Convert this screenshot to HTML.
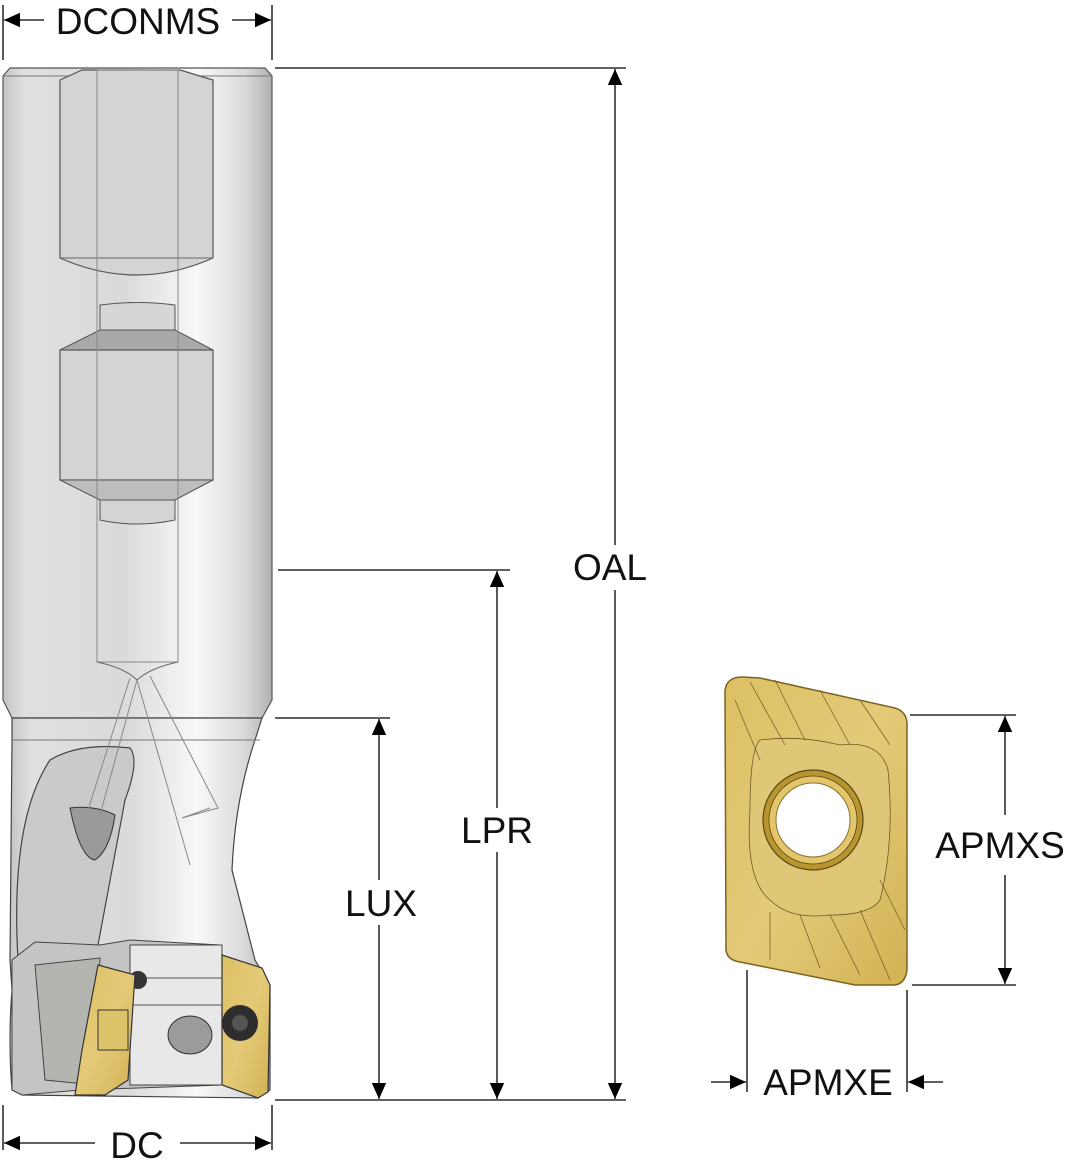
<!DOCTYPE html>
<html><head><meta charset="utf-8"><style>
html,body{margin:0;padding:0;background:#fff;width:1070px;height:1171px;overflow:hidden}
svg{display:block}
text{font-family:"Liberation Sans",sans-serif;fill:#111}
</style></head><body>
<svg width="1070" height="1171" viewBox="0 0 1070 1171" xmlns="http://www.w3.org/2000/svg">
<defs>
<linearGradient id="sh" x1="0" x2="1" y1="0" y2="0">
<stop offset="0" stop-color="#c4c4c4"/><stop offset="0.08" stop-color="#e0e0e0"/>
<stop offset="0.45" stop-color="#dadada"/><stop offset="0.72" stop-color="#f8f8f8"/>
<stop offset="0.9" stop-color="#dadada"/><stop offset="1" stop-color="#b0b0b0"/>
</linearGradient>
<linearGradient id="gd" x1="0" x2="1" y1="0" y2="1">
<stop offset="0" stop-color="#dcc064"/><stop offset="0.5" stop-color="#e4ca78"/><stop offset="1" stop-color="#d2b254"/>
</linearGradient>
<marker id="a" viewBox="0 0 10 10" refX="10" refY="5" markerWidth="18" markerHeight="16" markerUnits="userSpaceOnUse" orient="auto-start-reverse"><path d="M0,0.5 L10,5 L0,9.5z" fill="#000"/></marker>
</defs>

<path d="M3,76 L10,68 L265,68 L272,76 L272,700 L262,718 L12,718 L3,700 Z" fill="url(#sh)" stroke="#555" stroke-width="1.2"/>
<line x1="3" y1="76" x2="272" y2="76" stroke="#777"/>
<path d="M60,80 L82,70 L180,70 L213,80 L213,258 Q137,292 60,258 Z" fill="#d4d4d4" stroke="#555" stroke-width="1.2"/>
<path d="M60,258 L213,258" stroke="#666"/>
<path d="M100,305 Q137,300 175,305 L175,330 L100,330Z" fill="#d6d6d6" stroke="#555"/>
<path d="M100,330 L175,330 L213,350 L60,350 Z" fill="#a9a9a9" stroke="#555"/>
<rect x="60" y="350" width="153" height="130" fill="#d4d4d4" stroke="#555" stroke-width="1.2"/>
<path d="M60,480 L213,480 L175,500 L100,500Z" fill="#bdbdbd" stroke="#555"/>
<path d="M100,500 L175,500 L175,520 Q137,528 100,520Z" fill="#d4d4d4" stroke="#555"/>
<rect x="97" y="70" width="81" height="592" fill="none" stroke="#888" stroke-width="1"/>
<path d="M97,662 Q125,668 137,680 Q150,668 178,662" fill="none" stroke="#666"/>
<path d="M12,718 L262,718 L255,740 Q235,800 232,870 L255,960 L270,985 L270,1090 L258,1098 L22,1095 L12,1090 Q8,1040 12,990 L10,960 L12,740 Z" fill="url(#sh)" stroke="#444" stroke-width="1.2"/>
<line x1="12" y1="740" x2="260" y2="740" stroke="#777"/>
<path d="M18,960 Q10,820 50,760 Q80,742 130,748 Q140,760 125,800 L98,945 Z" fill="#cacaca" stroke="#444" stroke-width="1.2"/>
<path d="M70,808 Q95,805 115,815 Q110,850 95,860 Q80,858 70,808Z" fill="#9a9a9a" stroke="#333"/>
<path d="M130,678 L88,810 M137,680 L100,815 M137,680 L190,865 M150,676 L218,808 L182,818 L210,808" fill="none" stroke="#888"/>
<path d="M12,960 L35,942 L100,945 L130,940 L220,945 L222,1085 L80,1090 L22,1095 L12,1090 Z" fill="#c4c4c4" stroke="#444"/>
<rect x="130" y="945" width="92" height="140" fill="#e8e8e8" stroke="#444"/>
<line x1="130" y1="978" x2="222" y2="978" stroke="#555"/>
<line x1="130" y1="1005" x2="222" y2="1005" stroke="#555"/>
<path d="M35,965 L100,958 L95,1085 L45,1080 Z" fill="#b4b4b0" stroke="#444"/>
<ellipse cx="190" cy="1035" rx="22" ry="19" fill="#9b9b9b" stroke="#333"/>
<circle cx="138" cy="980" r="9" fill="#333"/>
<path d="M98,965 L135,975 L128,1080 L105,1095 L75,1095 L82,1050 Z" fill="url(#gd)" stroke="#333" stroke-width="1.2"/>
<rect x="98" y="1010" width="30" height="40" fill="#dcc36a" stroke="#333"/>
<path d="M222,955 L262,968 L270,985 L268,1092 L258,1098 L222,1085 Z" fill="url(#gd)" stroke="#333" stroke-width="1.2"/>
<circle cx="240" cy="1023" r="18" fill="#2d2d2d"/>
<circle cx="240" cy="1023" r="8" fill="#555"/>

<g stroke="#000" stroke-width="1.3" fill="none">
<line x1="3" y1="5" x2="3" y2="60"/><line x1="272" y1="5" x2="272" y2="60"/>
<line x1="4" y1="20" x2="44" y2="20" marker-start="url(#a)"/>
<line x1="232" y1="20" x2="271" y2="20" marker-end="url(#a)"/>
<line x1="275" y1="68" x2="626" y2="68"/><line x1="275" y1="1100" x2="626" y2="1100"/>
<line x1="615" y1="69" x2="615" y2="545" marker-start="url(#a)"/>
<line x1="615" y1="590" x2="615" y2="1099" marker-end="url(#a)"/>
<line x1="278" y1="570" x2="510" y2="570"/>
<line x1="497" y1="571" x2="497" y2="808" marker-start="url(#a)"/>
<line x1="497" y1="852" x2="497" y2="1099" marker-end="url(#a)"/>
<line x1="275" y1="718" x2="390" y2="718"/>
<line x1="379" y1="719" x2="379" y2="880" marker-start="url(#a)"/>
<line x1="379" y1="925" x2="379" y2="1099" marker-end="url(#a)"/>
<line x1="3" y1="1105" x2="3" y2="1150"/><line x1="272" y1="1105" x2="272" y2="1150"/>
<line x1="4" y1="1143" x2="95" y2="1143" marker-start="url(#a)"/>
<line x1="180" y1="1143" x2="271" y2="1143" marker-end="url(#a)"/>
<line x1="910" y1="715" x2="1016" y2="715"/><line x1="912" y1="985" x2="1016" y2="985"/>
<line x1="1005" y1="716" x2="1005" y2="815" marker-start="url(#a)"/>
<line x1="1005" y1="875" x2="1005" y2="984" marker-end="url(#a)"/>
<line x1="747" y1="970" x2="747" y2="1092"/><line x1="907" y1="990" x2="907" y2="1092"/>
<line x1="711" y1="1082" x2="746" y2="1082" marker-end="url(#a)"/>
<line x1="943" y1="1082" x2="908" y2="1082" marker-end="url(#a)"/>
</g>
<g font-size="37" text-anchor="middle">
<text x="138" y="34">DCONMS</text>
<text x="610" y="580">OAL</text>
<text x="497" y="843">LPR</text>
<text x="381" y="916">LUX</text>
<text x="137" y="1158">DC</text>
<text x="1000" y="858">APMXS</text>
<text x="828" y="1095">APMXE</text>
</g>

<path d="M725,690 Q727,677 742,677 L760,678 L895,708 Q907,712 907,724 L907,970 Q905,985 893,985 L855,985 L740,962 Q727,960 726,950 Z" fill="url(#gd)" stroke="#7a6420" stroke-width="1.5"/>
<path d="M760,740 Q800,735 840,745 Q880,740 888,770 Q895,840 880,900 Q870,915 830,915 Q790,920 770,900 Q745,880 750,810 Q750,750 760,740Z" fill="#e0c777" stroke="#6b5a22" stroke-width="0.8"/>
<g stroke="#6b5a22" stroke-width="0.7" fill="none">
<path d="M750,682 L785,745 M775,680 L805,740 M820,690 L850,745 M860,700 L890,745 M735,700 L760,760"/>
<path d="M770,912 L770,960 M800,915 L820,968 M830,915 L860,975 M860,910 L890,980 M880,880 L905,930"/>
</g>
<circle cx="813" cy="820" r="50" fill="#b8952e" stroke="#5a4815" stroke-width="1.2"/>
<circle cx="813" cy="820" r="44" fill="#e3c56c" stroke="#5a4815" stroke-width="0.8"/>
<circle cx="813" cy="820" r="37" fill="#fff" stroke="#8a7030" stroke-width="1"/>
</svg>
</body></html>
